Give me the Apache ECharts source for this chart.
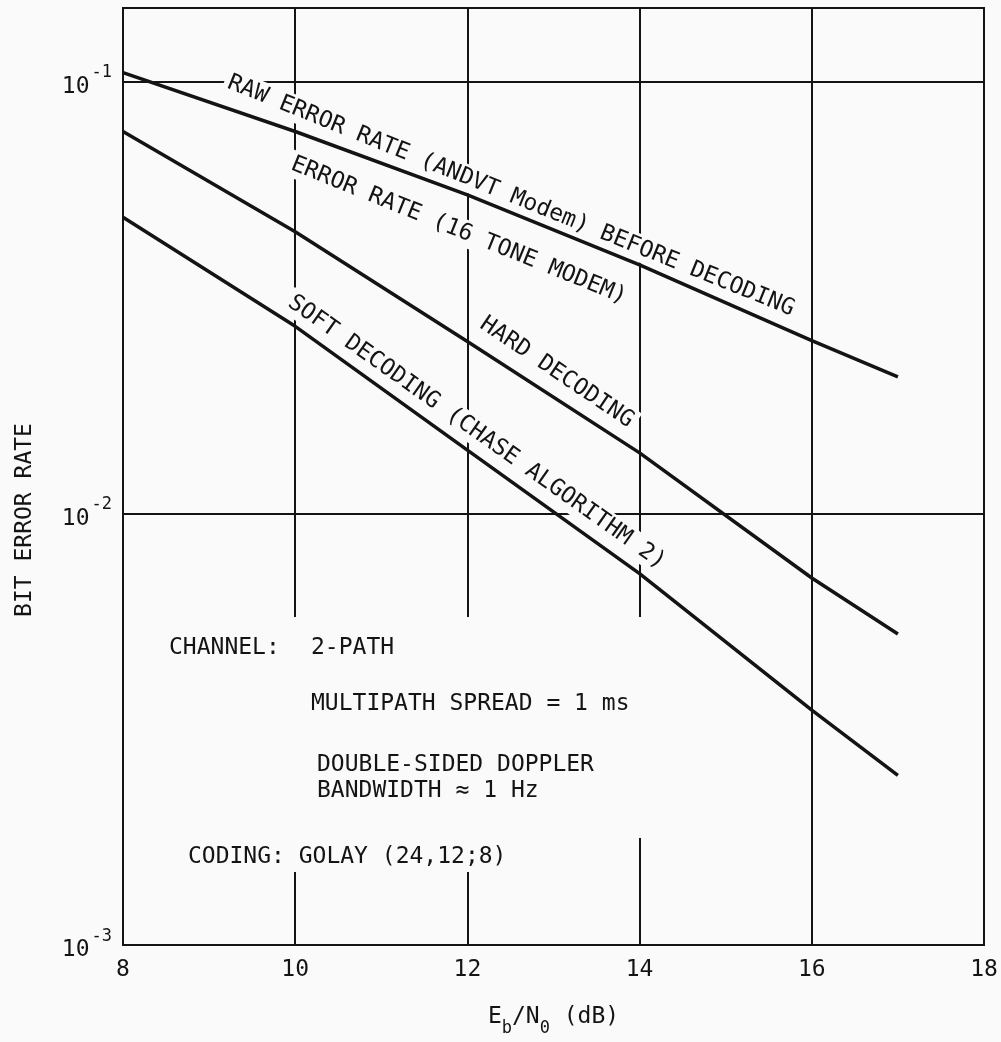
<!DOCTYPE html>
<html>
<head>
<meta charset="utf-8">
<script src="https://cdn.jsdelivr.net/npm/echarts@6/dist/echarts.min.js"></script>
<style>
html,body{margin:0;padding:0;background:#fafafa;}
#c{width:1001px;height:1042px;}
</style>
</head>
<body>
<div id="c"></div>
<script>
// ---- data ----
const ebno = [8, 10, 12, 14, 16, 17];
const rawAndvt = [0.1049, 0.0766, 0.0546, 0.0376, 0.0251, 0.0207];
const hardDecoding = [0.0766, 0.0449, 0.0250, 0.0138, 0.00708, 0.00525];
const softDecoding = [0.0485, 0.0271, 0.0140, 0.00725, 0.00350, 0.00247];
const xTicks = [8, 10, 12, 14, 16, 18];
const yTickExponents = [-3, -2, -1];

const curveLabelTexts = [
  'RAW ERROR RATE (ANDVT Modem) BEFORE DECODING',
  'ERROR RATE (16 TONE MODEM)',
  'HARD DECODING',
  'SOFT DECODING (CHASE ALGORITHM 2)'
];
const noteTexts = [
  'CHANNEL:',
  '2-PATH',
  'MULTIPATH SPREAD = 1 ms',
  'DOUBLE-SIDED DOPPLER',
  'BANDWIDTH \u2248 1 Hz',
  'CODING: GOLAY (24,12;8)'
];

// ---- styling ----
const FONT = '"DejaVu Sans Mono","Liberation Mono",monospace';
const FS = 23;
const INK = '#141414';
const BG = '#fafafa';

const chart = echarts.init(document.getElementById('c'), null, {renderer: 'canvas'});

function pairs(ys) { return ebno.map((x, i) => [x, ys[i]]); }

function lineSeries(name, ys) {
  return {
    name: name, type: 'line', data: pairs(ys), showSymbol: false, symbol: 'none',
    lineStyle: {color: INK, width: 3.5}, z: 2, silent: true
  };
}

chart.setOption({
  backgroundColor: BG,
  animation: false,
  grid: {left: 123, right: 17, top: 8, bottom: 97, show: true, borderColor: INK, borderWidth: 2, backgroundColor: 'transparent'},
  xAxis: {
    type: 'value', min: 8, max: 18, interval: 2,
    axisLine: {show: true, lineStyle: {color: INK, width: 2}},
    axisTick: {show: false},
    splitLine: {show: true, lineStyle: {color: INK, width: 2}},
    axisLabel: {color: INK, fontSize: FS, fontFamily: FONT, margin: 14,
      formatter: v => xTicks.indexOf(v) >= 0 ? String(v) : ''},
    name: '{n|E}{sb|b}{n|/N}{sb|0}{n| (dB)}',
    nameLocation: 'middle', nameGap: 52,
    nameTextStyle: {
      color: INK, fontFamily: FONT,
      rich: {
        n: {fontSize: FS, fontFamily: FONT, color: INK, lineHeight: 40, verticalAlign: 'middle'},
        sb: {fontSize: 17, fontFamily: FONT, color: INK, lineHeight: 17, verticalAlign: 'bottom'}
      }
    }
  },
  yAxis: {
    type: 'log', logBase: 10, min: 0.001, max: 0.148,
    axisLine: {show: true, lineStyle: {color: INK, width: 2}},
    axisTick: {show: false},
    splitLine: {show: true, lineStyle: {color: INK, width: 2}},
    minorTick: {show: false}, minorSplitLine: {show: false},
    axisLabel: {
      color: INK, fontFamily: FONT, margin: 11,
      formatter: function (v) {
        const l = Math.log10(v), e = Math.round(l);
        if (Math.abs(l - e) > 1e-6 || yTickExponents.indexOf(e) < 0) return '';
        return '{b|10}{s|' + e + '}';
      },
      rich: {
        b: {fontSize: FS, fontFamily: FONT, color: INK, lineHeight: 34, verticalAlign: 'bottom'},
        s: {fontSize: 17, fontFamily: FONT, color: INK, lineHeight: 17, verticalAlign: 'top', padding: [0, 0, 0, 2]}
      }
    },
    name: 'BIT ERROR RATE',
    nameLocation: 'middle', nameRotate: 90, nameGap: 86,
    nameTextStyle: {color: INK, fontSize: FS, fontFamily: FONT, padding: [0, 87, 0, 0]}
  },
  series: [
    lineSeries('RAW ERROR RATE (ANDVT Modem) BEFORE DECODING', rawAndvt),
    lineSeries('HARD DECODING', hardDecoding),
    lineSeries('SOFT DECODING (CHASE ALGORITHM 2)', softDecoding)
  ]
});

// ---- annotations placed in data coordinates ----
function px(x, y) { return chart.convertToPixel({gridIndex: 0}, [x, y]); }

const curveLabelPlaces = [
  {at: [12.506, 0.0543], angle: -22},
  {at: [11.90, 0.0451], angle: -22},
  {at: [13.037, 0.0212], angle: -34},
  {at: [12.108, 0.01539], angle: -35.3}
];
const notePlaces = [
  [8.488, 0.004874], [10.137, 0.004874], [10.137, 0.003615],
  [10.207, 0.002611], [10.207, 0.002273], [8.708, 0.001598]
];
const maskBoxes = [
  [[8.314, 0.005751], [14.12, 0.001769]],
  [[8.314, 0.001769], [12.61, 0.001475]]
];

const graphics = [];
maskBoxes.forEach(b => {
  const p0 = px(b[0][0], b[0][1]), p1 = px(b[1][0], b[1][1]);
  graphics.push({type: 'rect', z: 1, silent: true,
    shape: {x: p0[0], y: p0[1], width: p1[0] - p0[0], height: p1[1] - p0[1]},
    style: {fill: BG}});
});
curveLabelTexts.forEach((t, i) => {
  const pl = curveLabelPlaces[i];
  const p = px(pl.at[0], pl.at[1]);
  graphics.push({type: 'text', z: 1.5, silent: true, x: p[0], y: p[1],
    rotation: pl.angle * Math.PI / 180,
    style: {text: t, fill: INK, fontSize: FS, fontFamily: FONT, align: 'center', verticalAlign: 'middle',
      backgroundColor: BG, padding: [2, 4]}});
});
noteTexts.forEach((t, i) => {
  const p = px(notePlaces[i][0], notePlaces[i][1]);
  graphics.push({type: 'text', z: 1.5, silent: true, x: p[0], y: p[1],
    style: {text: t, fill: INK, fontSize: FS, fontFamily: FONT, align: 'left', verticalAlign: 'middle',
      backgroundColor: BG, padding: [2, 4]}});
});
chart.setOption({graphic: graphics});
</script>
</body>
</html>
